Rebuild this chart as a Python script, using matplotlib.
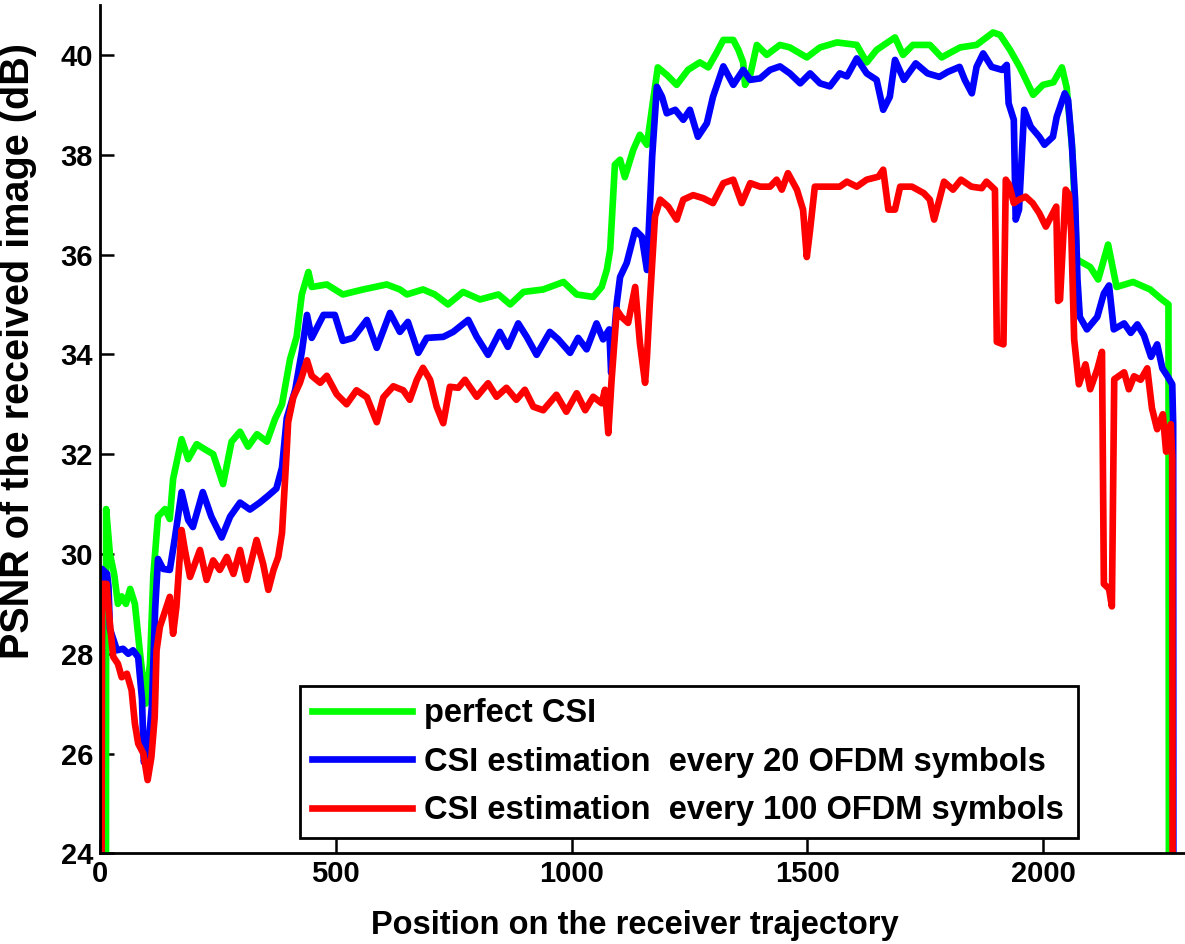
import matplotlib
matplotlib.use("Agg")
import matplotlib.pyplot as plt

# ---------------- data ----------------
green_x = [0, 12, 13, 21, 30, 38, 46, 55, 64, 74, 85, 97, 106, 113, 123, 138, 148, 155, 173, 187,
           205, 222, 240, 261, 279, 297, 314, 333, 354, 371, 386, 403, 417, 428, 442, 449, 481, 515,
           558, 608, 636, 651, 685, 710, 738, 770, 806, 845, 870, 898, 940, 983, 1011, 1046, 1064,
           1075, 1082, 1092, 1103, 1113, 1131, 1145, 1160, 1171, 1183, 1202, 1223, 1247, 1272, 1290,
           1308, 1322, 1343, 1354, 1364, 1368, 1379, 1393, 1414, 1442, 1463, 1499, 1527, 1563, 1605,
           1626, 1647, 1686, 1703, 1724, 1760, 1785, 1824, 1859, 1894, 1909, 1930, 1951, 1979, 2000,
           2022, 2040, 2050, 2062, 2072, 2100, 2117, 2138, 2156, 2191, 2227, 2252, 2266, 2268]
green_y = [10, 10, 30.9, 30.0, 29.6, 29.0, 29.15, 29.0, 29.3, 29.0, 28.0, 27.0, 27.8, 29.55, 30.75,
           30.9, 30.7, 31.5, 32.3, 31.9, 32.2, 32.1, 32.0, 31.4, 32.25, 32.45, 32.15, 32.4, 32.25,
           32.7, 33.0, 33.9, 34.35, 35.2, 35.65, 35.35, 35.4, 35.2, 35.3, 35.4, 35.3, 35.2, 35.3,
           35.2, 35.0, 35.25, 35.1, 35.2, 35.0, 35.25, 35.3, 35.45, 35.2, 35.15, 35.35, 35.7, 36.1,
           37.8, 37.9, 37.55, 38.1, 38.4, 38.2, 38.95, 39.75, 39.6, 39.4, 39.7, 39.85, 39.75, 40.05,
           40.3, 40.3, 40.1, 39.85, 39.4, 39.6, 40.2, 40.0, 40.2, 40.15, 39.95, 40.15, 40.25, 40.2,
           39.85, 40.1, 40.35, 40.0, 40.2, 40.2, 39.95, 40.15, 40.2, 40.45, 40.4, 40.1, 39.75, 39.2,
           39.4, 39.45, 39.75, 39.35, 38.1, 35.9, 35.75, 35.5, 36.2, 35.35, 35.45, 35.3, 35.1, 35.0, 10]

blue_x = [0, 2, 4, 15, 18, 21, 36, 49, 60, 70, 81, 89, 93, 102, 110, 117, 123, 134, 148, 159, 173,
          187, 197, 218, 236, 258, 276, 297, 318, 339, 357, 374, 386, 396, 414, 428, 439, 449, 474,
          498, 515, 537, 566, 587, 615, 636, 653, 675, 693, 728, 749, 781, 799, 823, 848, 865, 887,
          905, 926, 954, 972, 997, 1014, 1032, 1053, 1067, 1080, 1084, 1096, 1103, 1117, 1135, 1149,
          1160, 1171, 1181, 1192, 1202, 1220, 1237, 1251, 1268, 1287, 1300, 1322, 1343, 1364, 1379,
          1400, 1421, 1442, 1463, 1485, 1506, 1527, 1548, 1569, 1584, 1605, 1626, 1647, 1661, 1675,
          1686, 1705, 1730, 1755, 1780, 1798, 1823, 1834, 1849, 1859, 1873, 1891, 1913, 1923, 1927,
          1938, 1942, 1949, 1960, 1974, 1992, 2003, 2021, 2029, 2046, 2053, 2061, 2068, 2073, 2078,
          2093, 2115, 2129, 2140, 2150, 2172, 2186, 2200, 2214, 2229, 2242, 2253, 2264, 2274, 2276,
          2277]
blue_y = [10, 10, 29.7, 29.6, 29.35, 28.5, 28.07, 28.1, 28.0, 28.07, 27.93, 27.1, 25.83, 26.1,
          26.95, 28.9, 29.9, 29.7, 29.68, 30.33, 31.24, 30.68, 30.54, 31.24, 30.75, 30.33, 30.75,
          31.03, 30.89, 31.03, 31.17, 31.31, 31.73, 32.72, 33.29, 34.05, 34.79, 34.33, 34.79, 34.79,
          34.27, 34.33, 34.69, 34.13, 34.83, 34.45, 34.65, 34.03, 34.33, 34.35, 34.45, 34.69, 34.35,
          33.99, 34.45, 34.15, 34.62, 34.35, 33.99, 34.45, 34.3, 34.03, 34.33, 34.1, 34.62, 34.3,
          34.5, 33.63, 35.03, 35.55, 35.83, 36.49, 36.36, 35.69, 37.96, 39.36, 39.16, 38.83, 38.9,
          38.7, 38.9, 38.36, 38.63, 39.16, 39.77, 39.4, 39.7, 39.5, 39.53, 39.7, 39.77, 39.63,
          39.43, 39.63, 39.43, 39.37, 39.63, 39.57, 39.93, 39.63, 39.5, 38.9, 39.16, 39.9, 39.5,
          39.83, 39.63, 39.56, 39.66, 39.76, 39.5, 39.23, 39.76, 40.03, 39.76, 39.7, 39.8, 39.03,
          38.7, 36.7, 36.9, 38.9, 38.56, 38.36, 38.2, 38.36, 38.76, 39.23, 39.1, 38.23, 37.1, 35.5,
          34.75, 34.5, 34.75, 35.22, 35.38, 34.5, 34.62, 34.43, 34.6, 34.38, 33.95, 34.2, 33.72,
          33.56, 33.4, 32.6, 10]

red_x = [0, 2, 4, 14, 21, 28, 38, 46, 57, 67, 74, 81, 92, 101, 109, 116, 120, 127, 141, 148, 155,
         162, 173, 180, 191, 201, 212, 226, 240, 254, 269, 283, 297, 311, 332, 346, 357, 368, 378,
         386, 392, 396, 399, 410, 424, 439, 449, 467, 481, 502, 523, 544, 566, 587, 601, 622, 643,
         657, 672, 685, 700, 714, 728, 742, 760, 774, 799, 823, 841, 862, 883, 901, 919, 940, 968,
         989, 1011, 1029, 1046, 1064, 1071, 1078, 1085, 1096, 1106, 1120, 1135, 1145, 1156, 1160,
         1166, 1177, 1188, 1205, 1223, 1237, 1258, 1279, 1300, 1322, 1343, 1361, 1379, 1400, 1421,
         1435, 1446, 1459, 1478, 1491, 1499, 1506, 1516, 1542, 1569, 1584, 1605, 1626, 1651, 1661,
         1672, 1686, 1697, 1722, 1747, 1760, 1769, 1780, 1790, 1809, 1826, 1848, 1870, 1880, 1898,
         1902, 1916, 1921, 1928, 1938, 1949, 1963, 1978, 1992, 2006, 2021, 2028, 2032, 2036, 2048,
         2055, 2060, 2066, 2076, 2090, 2100, 2115, 2125, 2129, 2140, 2146, 2151, 2172, 2182, 2193,
         2207, 2221, 2231, 2242, 2254, 2261, 2271, 2274, 2276]
red_y = [10, 10, 29.4, 29.4, 28.6, 27.94, 27.8, 27.53, 27.6, 27.27, 26.6, 26.2, 26.0, 25.47, 25.93,
         26.73, 28.07, 28.54, 28.94, 29.14, 28.4, 28.94, 30.48, 30.08, 29.54, 29.8, 30.08, 29.48,
         29.87, 29.68, 29.94, 29.6, 30.08, 29.48, 30.28, 29.8, 29.28, 29.68, 29.94, 30.42, 31.42,
         32.08, 32.64, 33.14, 33.43, 33.88, 33.57, 33.43, 33.57, 33.2, 33.0, 33.28, 33.14, 32.64,
         33.14, 33.36, 33.28, 33.09, 33.49, 33.73, 33.49, 32.95, 32.62, 33.35, 33.33, 33.49, 33.15,
         33.42, 33.15, 33.33, 33.09, 33.29, 32.95, 32.88, 33.19, 32.85, 33.22, 32.88, 33.15, 33.02,
         33.29, 32.42, 33.49, 34.89, 34.75, 34.63, 35.35, 34.23, 33.43, 33.95, 35.03, 36.76, 37.1,
         36.96, 36.7, 37.1, 37.19, 37.13, 37.03, 37.43, 37.5, 37.03, 37.43, 37.36, 37.36, 37.5,
         37.3, 37.63, 37.3, 36.9, 35.95, 36.5, 37.36, 37.36, 37.36, 37.46, 37.36, 37.5, 37.56,
         37.7, 36.9, 36.9, 37.36, 37.36, 37.23, 37.1, 36.7, 37.1, 37.46, 37.3, 37.5, 37.36, 37.33,
         37.46, 37.3, 34.25, 34.2, 37.5, 37.4, 37.03, 37.1, 37.16, 37.03, 36.83, 36.56, 36.83,
         36.96, 35.07, 35.1, 37.3, 37.2, 36.4, 34.3, 33.4, 33.8, 33.3, 33.7, 34.05, 29.4, 29.3,
         28.95, 33.5, 33.64, 33.3, 33.56, 33.49, 33.72, 32.92, 32.5, 32.8, 32.05, 32.6, 31.9, 10]

series_labels = ["perfect CSI",
                 "CSI estimation  every 20 OFDM symbols",
                 "CSI estimation  every 100 OFDM symbols"]
x_ticks = [0, 500, 1000, 1500, 2000]
y_ticks = [24, 26, 28, 30, 32, 34, 36, 38, 40]

# ---------------- figure ----------------
plt.rcParams['font.family'] = ['Liberation Sans', 'DejaVu Sans']
plt.rcParams['font.weight'] = 'bold'

fig = plt.figure(figsize=(11.85, 9.44), dpi=100)
ax = fig.add_axes([100 / 1185, 90.6 / 944, 1084.5 / 1185, 848.4 / 944])

lw = 4.8
ax.plot(green_x, green_y, color=(0, 1, 0), lw=lw, label=series_labels[0])
ax.plot(blue_x, blue_y, color=(0, 0, 1), lw=lw, label=series_labels[1])
ax.plot(red_x, red_y, color=(1, 0, 0), lw=lw, label=series_labels[2])

ax.set_xlim(0, 2300)
ax.set_ylim(24, 41)
ax.set_xticks(x_ticks)
ax.set_yticks(y_ticks)
ax.tick_params(direction='in', length=10, width=1.8, labelsize=21, pad=5)
for lab in ax.get_xticklabels() + ax.get_yticklabels():
    lab.set_fontweight('bold')
ax.spines['top'].set_visible(False)
ax.spines['right'].set_visible(False)
for s in ('left', 'bottom'):
    ax.spines[s].set_linewidth(2)

ax.set_xlabel("Position on the receiver trajectory", fontsize=23.5, fontweight='bold')
ax.xaxis.set_label_coords(0.493, -0.067)
ax.set_ylabel("PSNR of the received image (dB)", fontsize=28.5, fontweight='bold')
ax.yaxis.set_label_coords(-0.058, 0.592)

leg = ax.legend(loc='lower left', bbox_to_anchor=(0.1844, 0.0182, 0.7174, 0.18), mode='expand',
                borderaxespad=0, handlelength=3.06, handletextpad=0.37, borderpad=0.36,
                labelspacing=0.54, fancybox=False, framealpha=1, edgecolor='black',
                prop={'weight': 'bold', 'size': 23.5})
leg.get_frame().set_linewidth(2)
for line in leg.get_lines():
    line.set_linewidth(lw)

fig.savefig("out.png", dpi=100, facecolor='white')
